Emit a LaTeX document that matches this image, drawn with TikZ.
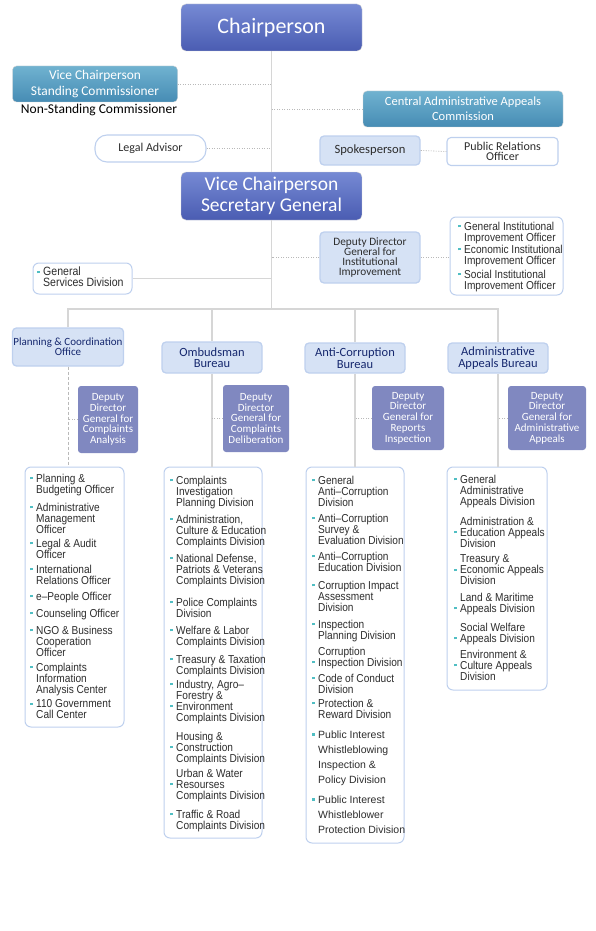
\documentclass[tikz,border=0pt]{standalone}
\usepackage{fontspec}
\setmainfont{Carlito}
\newfontfamily\listfam{Liberation Sans}[FakeStretch=0.88]
\newfontfamily\plainfam{Liberation Sans}
\usepackage{tikz}
\usetikzlibrary{positioning,calc}
\definecolor{ChairTop}{RGB}{118,138,212}
\definecolor{ChairBot}{RGB}{74,92,178}
\definecolor{TealTop}{RGB}{112,178,208}
\definecolor{TealBot}{RGB}{70,140,180}
\definecolor{PaleFill}{RGB}{214,226,245}
\definecolor{PaleEdge}{RGB}{190,208,238}
\definecolor{DeputyFill}{RGB}{128,136,192}
\definecolor{NavyText}{RGB}{22,40,110}
\definecolor{ItemGray}{RGB}{45,45,45}
\definecolor{BulletTeal}{RGB}{80,190,195}
\definecolor{TrunkGray}{RGB}{214,214,214}
\newcommand{\bul}{\llap{\textcolor{BulletTeal}{\rule[2.6pt]{2.4pt}{2.4pt}}\hspace{3.5pt}}}
\tikzset{
  headbox/.style={rounded corners=5pt, draw=gray!35, top color=ChairTop, bottom color=ChairBot, text=white, align=center, inner sep=1pt},
  tealbox/.style={rounded corners=4pt, draw=gray!35, top color=TealTop, bottom color=TealBot, text=white, align=center, inner sep=1pt},
  palebox/.style={rounded corners=4pt, draw=PaleEdge, line width=1.3pt, fill=PaleFill, align=center, inner sep=1pt},
  whitebox/.style={rounded corners=4pt, draw=PaleEdge, line width=1.1pt, fill=white, align=center, inner sep=1pt},
  deputybox/.style={rounded corners=3pt, fill=DeputyFill, text=white, align=center, inner sep=1pt, font=\fontsize{11}{10.7}\selectfont},
  bureaubox/.style={palebox, text=NavyText, font=\fontsize{12.5}{11.5}\selectfont},
  listbox/.style={rounded corners=6pt, draw=PaleEdge, line width=1pt, fill=white, inner sep=0pt},
  item/.style={anchor=north west, inner sep=0pt, align=left, text=ItemGray, font=\listfam\fontsize{11.5}{11}\selectfont},
  trunk/.style={draw=TrunkGray, line width=1.4pt},
  dotline/.style={draw=gray!55, line width=0.6pt, dash pattern=on 1.2pt off 1.3pt},
  dashline/.style={draw=gray!55, line width=0.7pt, dash pattern=on 3pt off 2pt},
}
\begin{document}
\begin{tikzpicture}[x=1pt, y=-1pt]
  \useasboundingbox (0,0) rectangle (595,931);
  % top level
  \node[headbox, minimum width=181pt, minimum height=47pt, font=\fontsize{22}{24}\selectfont] (chair) at (271.5,27.5) {Chairperson};
  \node[tealbox, minimum width=165pt, minimum height=36pt, font=\fontsize{13.4}{16}\selectfont] (vcsc) at (95,84) {Vice Chairperson\\Standing Commissioner};
  \node[font=\fontsize{13.5}{16}\selectfont, inner sep=0pt] (nsc) at (99,110) {Non-Standing Commissioner};
  \node[tealbox, minimum width=200pt, minimum height=36pt, font=\fontsize{12.5}{15}\selectfont] (caac) at (463,109) {Central Administrative Appeals\\Commission};
  \node[whitebox, rounded corners=12pt, minimum width=111pt, minimum height=27pt, text=ItemGray, font=\fontsize{12}{12}\selectfont] (legal) at (150.5,148.5) {Legal Advisor};
  \node[palebox, minimum width=100pt, minimum height=29pt, text=ItemGray, font=\fontsize{12.6}{12}\selectfont] (spk) at (370,150.5) {Spokesperson};
  \node[whitebox, minimum width=111pt, minimum height=28pt, text=ItemGray, font=\fontsize{12}{10.5}\selectfont] (pro) at (502.5,151.5) {Public Relations\\Officer};
  \node[headbox, minimum width=181pt, minimum height=48pt, font=\fontsize{19.5}{21}\selectfont] (vcsg) at (271.5,196) {Vice Chairperson\\Secretary General};

  % institutional improvement and general services
  \node[palebox, minimum width=100pt, minimum height=51pt, text=ItemGray, font=\fontsize{11.3}{10}\selectfont] (ddgi) at (370,257.5) {Deputy Director\\General for\\Institutional\\Improvement};
  \node[listbox, minimum width=113pt, minimum height=78pt] (instlist) at (506.5,256) {};
  \node[item] (ii1) at (464,221.5) {\bul General Institutional\\Improvement Officer};
  \node[item] (ii2) at (464,244.5) {\bul Economic Institutional\\Improvement Officer};
  \node[item] (ii3) at (464,269.5) {\bul Social Institutional\\Improvement Officer};
  \node[listbox, minimum width=99pt, minimum height=31pt] (gsd) at (82.5,278.5) {};
  \node[item, font=\listfam\fontsize{12}{10.7}\selectfont] (gs) at (43,267) {\bul General\\Services Division};

  % bureaus
  \node[bureaubox, minimum width=109pt, minimum height=38pt, font=\fontsize{11}{10}\selectfont] (plan) at (68,347) {Planning \& Coordination\\Office};
  \node[bureaubox, minimum width=100pt, minimum height=31pt] (omb) at (212,357.5) {Ombudsman\\Bureau};
  \node[bureaubox, minimum width=100pt, minimum height=30pt] (anti) at (355,358) {Anti-Corruption\\Bureau};
  \node[bureaubox, minimum width=100pt, minimum height=30pt] (appb) at (498,358) {Administrative\\Appeals Bureau};

  % deputy directors general
  \node[deputybox, minimum width=60pt, minimum height=67pt] (dgca) at (108,419.5) {Deputy\\Director\\General for\\Complaints\\Analysis};
  \node[deputybox, minimum width=66pt, minimum height=67pt] (dgcd) at (256,418.5) {Deputy\\Director\\General for\\Complaints\\Deliberation};
  \node[deputybox, minimum width=72pt, minimum height=64pt] (dgri) at (408,418) {Deputy\\Director\\General for\\Reports\\Inspection};
  \node[deputybox, minimum width=78pt, minimum height=64pt] (dgaa) at (547,418) {Deputy\\Director\\General for\\Administrative\\Appeals};

  % division lists
  \node[listbox, minimum width=99pt, minimum height=260pt] (planlist) at (74.5,597) {};
  \node[listbox, minimum width=98pt, minimum height=371pt] (omblist) at (213,652.5) {};
  \node[listbox, minimum width=98pt, minimum height=376pt] (antilist) at (355,655) {};
  \node[listbox, minimum width=100pt, minimum height=223pt] (appblist) at (497,578.5) {};

  \node[item] (pl1) at (36,473.5) {\bul Planning \&\\Budgeting Officer};
  \node[item] (pl2) at (36,502.5) {\bul Administrative\\Management\\Officer};
  \node[item] (pl3) at (36,538.5) {\bul Legal \& Audit\\Officer};
  \node[item] (pl4) at (36,564.5) {\bul International\\Relations Officer};
  \node[item] (pl5) at (36,591.5) {\bul e\textendash People Officer};
  \node[item] (pl6) at (36,608.5) {\bul Counseling Officer};
  \node[item] (pl7) at (36,625.5) {\bul NGO \& Business\\Cooperation\\Officer};
  \node[item] (pl8) at (36,662.5) {\bul Complaints\\Information\\Analysis Center};
  \node[item] (pl9) at (36,699.5) {\bul 110 Government\\Call Center};

  \node[item] (om1) at (176,475.5) {\bul Complaints\\Investigation\\Planning Division};
  \node[item] (om2) at (176,514.5) {\bul Administration,\\Culture \& Education\\Complaints Division};
  \node[item] (om3) at (176,553.5) {\bul National Defense,\\Patriots \& Veterans\\Complaints Division};
  \node[item] (om4) at (176,597.5) {\bul Police Complaints\\Division};
  \node[item] (om5) at (176,625.5) {\bul Welfare \& Labor\\Complaints Division};
  \node[item] (om6) at (176,654.5) {\bul Treasury \& Taxation\\Complaints Division};
  \node[item] (om7) at (176,679.5) {\bul Industry, Agro\textendash\\Forestry \&\\\bul Environment\\Complaints Division};
  \node[item] (om8) at (176,731.5) {Housing \&\\\bul Construction\\Complaints Division};
  \node[item] (om9) at (176,768.5) {Urban \& Water\\\bul Resourses\\Complaints Division};
  \node[item] (om10) at (176,809.5) {\bul Traffic \& Road\\Complaints Division};

  \node[item] (ac1) at (318,475.5) {\bul General\\Anti\textendash Corruption\\Division};
  \node[item] (ac2) at (318,513.5) {\bul Anti\textendash Corruption\\Survey \&\\Evaluation Division};
  \node[item] (ac3) at (318,551.5) {\bul Anti\textendash Corruption\\Education Division};
  \node[item] (ac4) at (318,580.5) {\bul Corruption Impact\\Assessment\\Division};
  \node[item] (ac5) at (318,619.5) {\bul Inspection\\Planning Division};
  \node[item] (ac6) at (318,646.5) {Corruption\\\bul Inspection Division};
  \node[item] (ac7) at (318,673.5) {\bul Code of Conduct\\Division};
  \node[item] (ac8) at (318,698.5) {\bul Protection \&\\Reward Division};
  \node[item, font=\plainfam\fontsize{10.5}{15}\selectfont] (ac9) at (318,730.5) {\bul Public Interest\\Whistleblowing\\Inspection \&\\Policy Division};
  \node[item, font=\plainfam\fontsize{10.5}{15}\selectfont] (ac10) at (318,795.5) {\bul Public Interest\\Whistleblower\\Protection Division};

  \node[item] (aa1) at (460,474.5) {\bul General\\Administrative\\Appeals Division};
  \node[item] (aa2) at (460,516.5) {Administration \&\\\bul Education Appeals\\Division};
  \node[item] (aa3) at (460,554.5) {Treasury \&\\\bul Economic Appeals\\Division};
  \node[item] (aa4) at (460,592.5) {Land \& Maritime\\\bul Appeals Division};
  \node[item] (aa5) at (460,622.5) {Social Welfare\\\bul Appeals Division};
  \node[item] (aa6) at (460,649.5) {Environment \&\\\bul Culture Appeals\\Division};

  % connectors
  \coordinate (bar) at (271.5,309);
  \draw[trunk] (chair.south) -- (vcsg.north);
  \draw[trunk] (vcsg.south) -- (bar);
  \draw[trunk] (plan.north) |- (bar) -| (appb.north);
  \draw[trunk] (omb.north) -- (omb.north |- bar);
  \draw[trunk] (anti.north) -- (anti.north |- bar);
  \draw[trunk] (gsd.east) -- (gsd.east -| vcsg.south);
  \draw[dotline] (vcsc.east) -- (vcsc.east -| chair.south);
  \draw[dotline] (caac.west) -- (caac.west -| chair.south);
  \draw[dotline] (legal.east) -- (legal.east -| chair.south);
  \draw[dotline] (spk.east) -- (pro.west);
  \draw[dotline] (ddgi.west) -- (ddgi.west -| vcsg.south);
  \draw[dotline] (ddgi.east) -- (ddgi.east -| instlist.west);
  \draw[dashline] (plan.south) -- (plan.south |- planlist.north);
  \draw[trunk] (omb.south) -- (omb.south |- omblist.north);
  \draw[trunk] (anti.south) -- (anti.south |- antilist.north);
  \draw[trunk] (appb.south) -- (appb.south |- appblist.north);
  \draw[dotline] (dgca.west) -- (dgca.west -| plan.south);
  \draw[dotline] (dgcd.west) -- (dgcd.west -| omb.south);
  \draw[dotline] (dgri.west) -- (dgri.west -| anti.south);
  \draw[dotline] (dgaa.west) -- (dgaa.west -| appb.south);
\end{tikzpicture}
\end{document}
